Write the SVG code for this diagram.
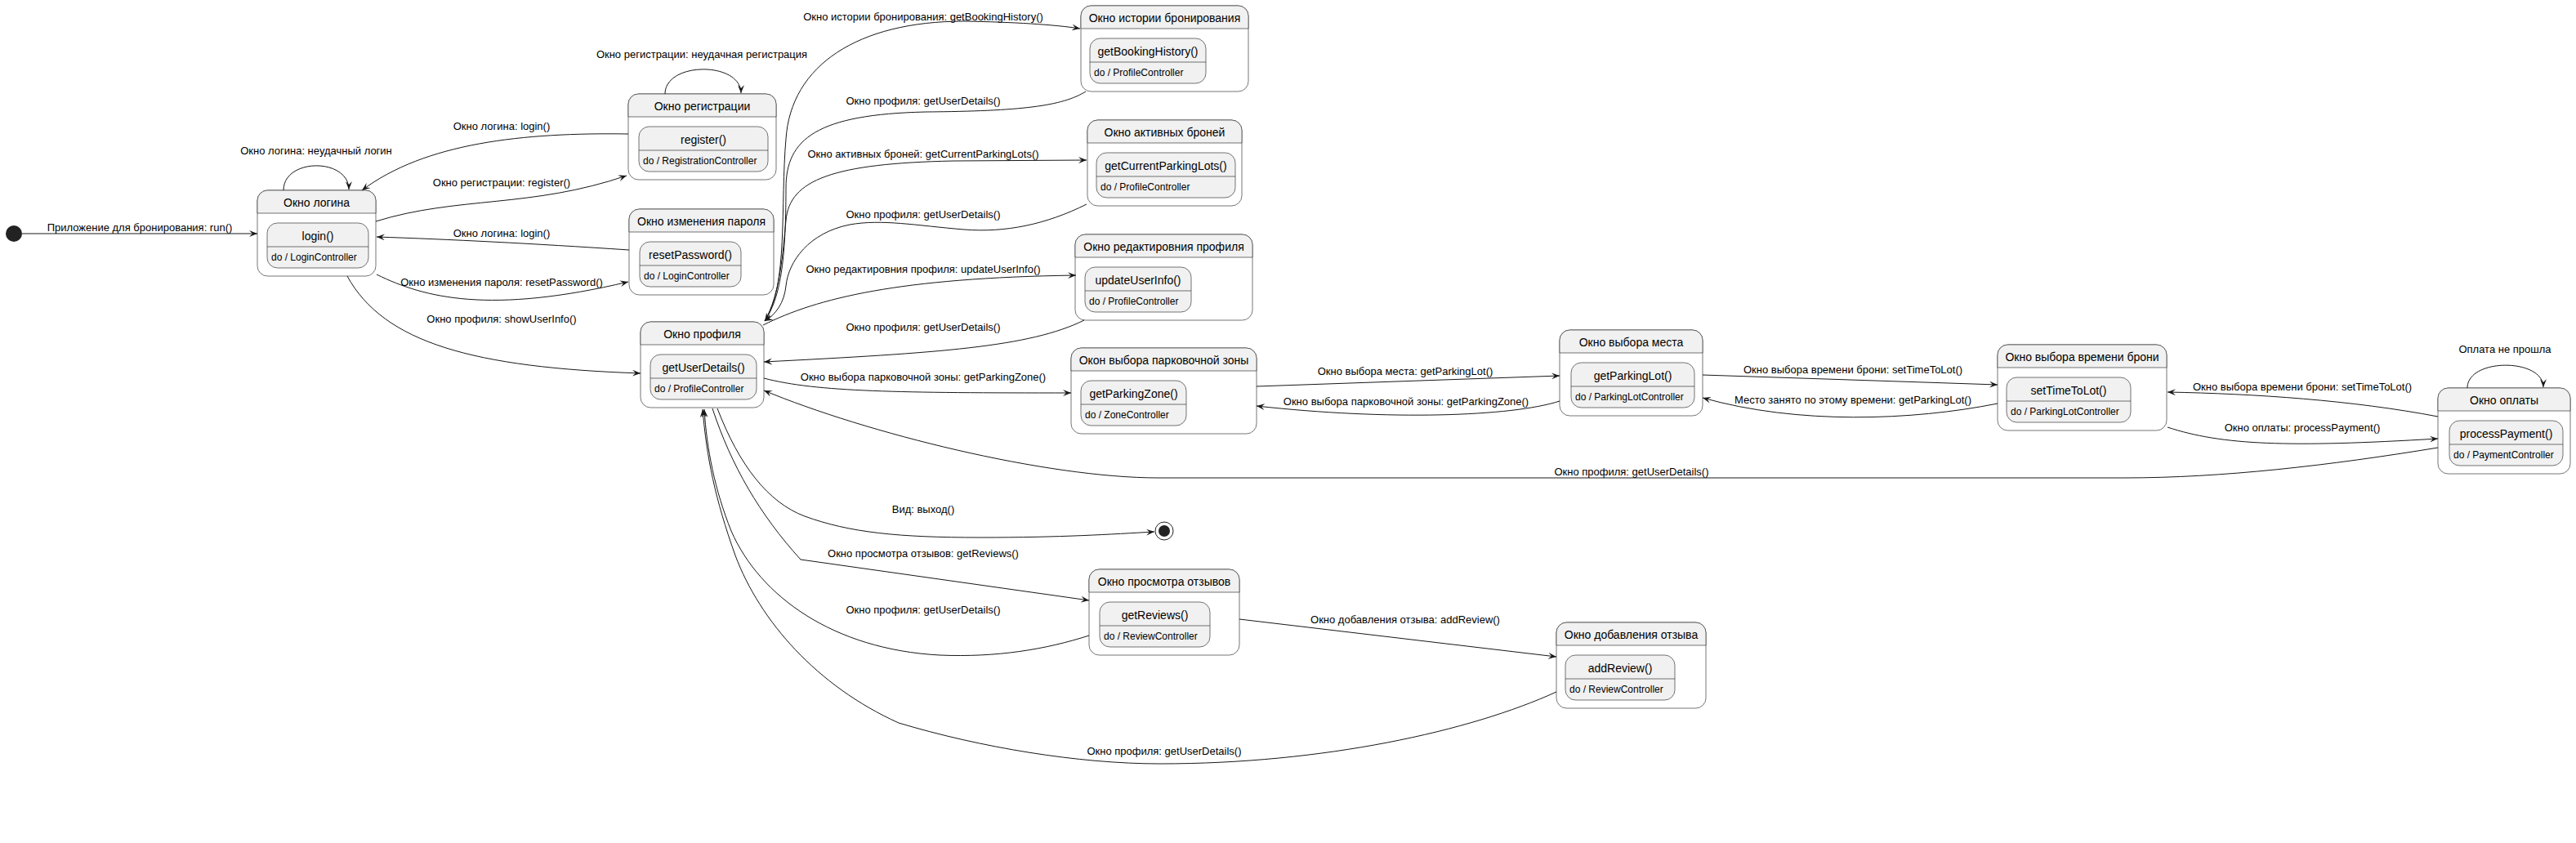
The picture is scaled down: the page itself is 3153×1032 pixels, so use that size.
<svg xmlns="http://www.w3.org/2000/svg" width="3153" height="1032" viewBox="0 0 3153 1032">
<style>
.ob{fill:#FFFFFF;stroke:#181818;stroke-width:0.6}
.hd{fill:#F1F1F1;stroke:#181818;stroke-width:0.6}
.ib{fill:#F1F1F1;stroke:#181818;stroke-width:0.6}
.sl{stroke:#181818;stroke-width:0.6}
.t{font-family:"Liberation Sans",Arial,sans-serif;font-size:14px;fill:#000;text-anchor:middle}
.d{font-family:"Liberation Sans",Arial,sans-serif;font-size:12px;fill:#000}
.e{fill:none;stroke:#181818;stroke-width:1;marker-end:url(#arr)}
.l{font-family:"Liberation Sans",Arial,sans-serif;font-size:13px;fill:#000;text-anchor:middle}
</style>
<defs>
<marker id="arr" markerUnits="userSpaceOnUse" viewBox="0 0 10 8" refX="10" refY="4" markerWidth="10" markerHeight="8" orient="auto">
<path d="M0,0 L10,4 L0,8 L4,4 Z" fill="#181818"/>
</marker>
</defs>
<rect width="3153" height="1032" fill="#FFFFFF"/>

<g id="start"><circle cx="17" cy="286" r="10" fill="#222222"/></g>
<g id="end"><circle cx="1425" cy="650" r="11" fill="none" stroke="#222222" stroke-width="1"/><circle cx="1425" cy="650" r="7" fill="#222222"/></g>

<g id="login">
<rect class="ob" x="315" y="233" width="145" height="105" rx="12.5"/>
<path class="hd" d="M315,261 V245.5 A12.5,12.5 0 0 1 327.5,233 H447.5 A12.5,12.5 0 0 1 460,245.5 V261 Z"/>
<text class="t" x="387.5" y="253">Окно логина</text>
<rect class="ib" x="327" y="273" width="124" height="55" rx="12.5"/>
<line class="sl" x1="327" y1="302" x2="451" y2="302"/>
<text class="t" x="389" y="294">login()</text>
<text class="d" x="332" y="319">do / LoginController</text>
</g>

<g id="registration">
<rect class="ob" x="769" y="115" width="181" height="105" rx="12.5"/>
<path class="hd" d="M769,143 V127.5 A12.5,12.5 0 0 1 781.5,115 H937.5 A12.5,12.5 0 0 1 950,127.5 V143 Z"/>
<text class="t" x="859.5" y="135">Окно регистрации</text>
<rect class="ib" x="782" y="155" width="158" height="55" rx="12.5"/>
<line class="sl" x1="782" y1="184" x2="940" y2="184"/>
<text class="t" x="861" y="176">register()</text>
<text class="d" x="787" y="201">do / RegistrationController</text>
</g>

<g id="password">
<rect class="ob" x="770" y="256" width="177" height="105" rx="12.5"/>
<path class="hd" d="M770,284 V268.5 A12.5,12.5 0 0 1 782.5,256 H934.5 A12.5,12.5 0 0 1 947,268.5 V284 Z"/>
<text class="t" x="858.5" y="276">Окно изменения пароля</text>
<rect class="ib" x="783" y="296" width="124" height="55" rx="12.5"/>
<line class="sl" x1="783" y1="325" x2="907" y2="325"/>
<text class="t" x="845" y="317">resetPassword()</text>
<text class="d" x="788" y="342">do / LoginController</text>
</g>

<g id="profile">
<rect class="ob" x="784" y="394" width="151" height="105" rx="12.5"/>
<path class="hd" d="M784,422 V406.5 A12.5,12.5 0 0 1 796.5,394 H922.5 A12.5,12.5 0 0 1 935,406.5 V422 Z"/>
<text class="t" x="859.5" y="414">Окно профиля</text>
<rect class="ib" x="796" y="434" width="130" height="55" rx="12.5"/>
<line class="sl" x1="796" y1="463" x2="926" y2="463"/>
<text class="t" x="861" y="455">getUserDetails()</text>
<text class="d" x="801" y="480">do / ProfileController</text>
</g>

<g id="history">
<rect class="ob" x="1323" y="7" width="205" height="105" rx="12.5"/>
<path class="hd" d="M1323,35 V19.5 A12.5,12.5 0 0 1 1335.5,7 H1515.5 A12.5,12.5 0 0 1 1528,19.5 V35 Z"/>
<text class="t" x="1425.5" y="27">Окно истории бронирования</text>
<rect class="ib" x="1334" y="47" width="142" height="55" rx="12.5"/>
<line class="sl" x1="1334" y1="76" x2="1476" y2="76"/>
<text class="t" x="1405" y="68">getBookingHistory()</text>
<text class="d" x="1339" y="93">do / ProfileController</text>
</g>

<g id="active">
<rect class="ob" x="1331" y="147" width="189" height="105" rx="12.5"/>
<path class="hd" d="M1331,175 V159.5 A12.5,12.5 0 0 1 1343.5,147 H1507.5 A12.5,12.5 0 0 1 1520,159.5 V175 Z"/>
<text class="t" x="1425.5" y="167">Окно активных броней</text>
<rect class="ib" x="1342" y="187" width="170" height="55" rx="12.5"/>
<line class="sl" x1="1342" y1="216" x2="1512" y2="216"/>
<text class="t" x="1427" y="208">getCurrentParkingLots()</text>
<text class="d" x="1347" y="233">do / ProfileController</text>
</g>

<g id="edit">
<rect class="ob" x="1316" y="287" width="217" height="105" rx="12.5"/>
<path class="hd" d="M1316,315 V299.5 A12.5,12.5 0 0 1 1328.5,287 H1520.5 A12.5,12.5 0 0 1 1533,299.5 V315 Z"/>
<text class="t" x="1424.5" y="307">Окно редактировния профиля</text>
<rect class="ib" x="1328" y="327" width="130" height="55" rx="12.5"/>
<line class="sl" x1="1328" y1="356" x2="1458" y2="356"/>
<text class="t" x="1393" y="348">updateUserInfo()</text>
<text class="d" x="1333" y="373">do / ProfileController</text>
</g>

<g id="zone">
<rect class="ob" x="1311" y="426" width="227" height="105" rx="12.5"/>
<path class="hd" d="M1311,454 V438.5 A12.5,12.5 0 0 1 1323.5,426 H1525.5 A12.5,12.5 0 0 1 1538,438.5 V454 Z"/>
<text class="t" x="1424.5" y="446">Окон выбора парковочной зоны</text>
<rect class="ib" x="1323" y="466" width="129" height="55" rx="12.5"/>
<line class="sl" x1="1323" y1="495" x2="1452" y2="495"/>
<text class="t" x="1387.5" y="487">getParkingZone()</text>
<text class="d" x="1328" y="512">do / ZoneController</text>
</g>

<g id="place">
<rect class="ob" x="1909" y="404" width="175" height="105" rx="12.5"/>
<path class="hd" d="M1909,432 V416.5 A12.5,12.5 0 0 1 1921.5,404 H2071.5 A12.5,12.5 0 0 1 2084,416.5 V432 Z"/>
<text class="t" x="1996.5" y="424">Окно выбора места</text>
<rect class="ib" x="1923" y="444" width="151" height="55" rx="12.5"/>
<line class="sl" x1="1923" y1="473" x2="2074" y2="473"/>
<text class="t" x="1998.5" y="465">getParkingLot()</text>
<text class="d" x="1928" y="490">do / ParkingLotController</text>
</g>

<g id="time">
<rect class="ob" x="2445" y="422" width="207" height="105" rx="12.5"/>
<path class="hd" d="M2445,450 V434.5 A12.5,12.5 0 0 1 2457.5,422 H2639.5 A12.5,12.5 0 0 1 2652,434.5 V450 Z"/>
<text class="t" x="2548.5" y="442">Окно выбора времени брони</text>
<rect class="ib" x="2456" y="462" width="152" height="55" rx="12.5"/>
<line class="sl" x1="2456" y1="491" x2="2608" y2="491"/>
<text class="t" x="2532" y="483">setTimeToLot()</text>
<text class="d" x="2461" y="508">do / ParkingLotController</text>
</g>

<g id="payment">
<rect class="ob" x="2984" y="475" width="162" height="105" rx="12.5"/>
<path class="hd" d="M2984,503 V487.5 A12.5,12.5 0 0 1 2996.5,475 H3133.5 A12.5,12.5 0 0 1 3146,487.5 V503 Z"/>
<text class="t" x="3065" y="495">Окно оплаты</text>
<rect class="ib" x="2998" y="515" width="139" height="55" rx="12.5"/>
<line class="sl" x1="2998" y1="544" x2="3137" y2="544"/>
<text class="t" x="3067.5" y="536">processPayment()</text>
<text class="d" x="3003" y="561">do / PaymentController</text>
</g>

<g id="reviews">
<rect class="ob" x="1333" y="697" width="184" height="105" rx="12.5"/>
<path class="hd" d="M1333,725 V709.5 A12.5,12.5 0 0 1 1345.5,697 H1504.5 A12.5,12.5 0 0 1 1517,709.5 V725 Z"/>
<text class="t" x="1425" y="717">Окно просмотра отзывов</text>
<rect class="ib" x="1346" y="737" width="135" height="55" rx="12.5"/>
<line class="sl" x1="1346" y1="766" x2="1481" y2="766"/>
<text class="t" x="1413.5" y="758">getReviews()</text>
<text class="d" x="1351" y="783">do / ReviewController</text>
</g>

<g id="addreview">
<rect class="ob" x="1905" y="762" width="183" height="105" rx="12.5"/>
<path class="hd" d="M1905,790 V774.5 A12.5,12.5 0 0 1 1917.5,762 H2075.5 A12.5,12.5 0 0 1 2088,774.5 V790 Z"/>
<text class="t" x="1996.5" y="782">Окно добавления отзыва</text>
<rect class="ib" x="1916" y="802" width="134" height="55" rx="12.5"/>
<line class="sl" x1="1916" y1="831" x2="2050" y2="831"/>
<text class="t" x="1983" y="823">addReview()</text>
<text class="d" x="1921" y="848">do / ReviewController</text>
</g>

<g id="connectors">
<path class="e" d="M27,286 L315,286"/>
<text class="l" x="171" y="283">Приложение для бронирования: run()</text>

<path class="e" d="M347,233 C347,193 427,193 427,232"/>
<text class="l" x="387" y="189">Окно логина: неудачный логин</text>

<path class="e" d="M769,164 C640,162 520,175 443,233"/>
<text class="l" x="614" y="159">Окно логина: login()</text>

<path class="e" d="M460,271 C560,240 650,255 767,215"/>
<text class="l" x="614" y="228">Окно регистрации: register()</text>

<path class="e" d="M814,115 C814,75 907,75 907,114"/>
<text class="l" x="859" y="71">Окно регистрации: неудачная регистрация</text>

<path class="e" d="M770,306 C650,298 550,293 461,290"/>
<text class="l" x="614" y="290">Окно логина: login()</text>

<path class="e" d="M461,336 C520,365 600,385 769,345"/>
<text class="l" x="614" y="350">Окно изменения пароля: resetPassword()</text>

<path class="e" d="M425,338 C470,420 580,450 784,457"/>
<text class="l" x="614" y="395">Окно профиля: showUserInfo()</text>

<path class="e" d="M936,393 C965,350 955,250 962,170 C968,80 1050,26 1180,26 C1240,27 1290,30 1322,35"/>
<text class="l" x="1130" y="25">Окно истории бронирования: getBookingHistory()</text>

<path class="e" d="M1329,112 C1300,130 1250,136 1133,137 C1000,140 962,170 962,230 C962,320 955,365 936,393"/>
<text class="l" x="1130" y="128">Окно профиля: getUserDetails()</text>

<path class="e" d="M936,393 C955,360 958,310 962,270 C966,220 1020,200 1167,197 L1330,196"/>
<text class="l" x="1130" y="193">Окно активных броней: getCurrentParkingLots()</text>

<path class="e" d="M1330,250 C1280,275 1230,285 1180,281 C1120,276 1080,268 1040,275 C990,285 965,320 962,350 C960,370 950,385 936,393"/>
<text class="l" x="1130" y="267">Окно профиля: getUserDetails()</text>

<path class="e" d="M934,398 C1000,365 1100,340 1317,337"/>
<text class="l" x="1130" y="334">Окно редактировния профиля: updateUserInfo()</text>

<path class="e" d="M1327,392 C1260,425 1150,432 935,443"/>
<text class="l" x="1130" y="405">Окно профиля: getUserDetails()</text>

<path class="e" d="M935,463 C1000,480 1100,481 1311,481"/>
<text class="l" x="1130" y="466">Окно выбора парковочной зоны: getParkingZone()</text>

<path class="e" d="M1538,473 L1909,460"/>
<text class="l" x="1720" y="459">Окно выбора места: getParkingLot()</text>

<path class="e" d="M1909,491 C1850,510 1700,515 1538,497"/>
<text class="l" x="1721" y="496">Окно выбора парковочной зоны: getParkingZone()</text>

<path class="e" d="M2084,459 L2445,471"/>
<text class="l" x="2268" y="457">Окно выбора времени брони: setTimeToLot()</text>

<path class="e" d="M2445,494 C2340,515 2200,520 2084,487"/>
<text class="l" x="2268" y="494">Место занято по этому времени: getParkingLot()</text>

<path class="e" d="M2984,510 C2880,490 2760,482 2653,480"/>
<text class="l" x="2818" y="478">Окно выбора времени брони: setTimeToLot()</text>

<path class="e" d="M2653,523 C2720,545 2800,548 2984,537"/>
<text class="l" x="2818" y="528">Окно оплаты: processPayment()</text>

<path class="e" d="M3020,475 C3020,438 3113,438 3113,474"/>
<text class="l" x="3066" y="432">Оплата не прошла</text>

<path class="e" d="M2984,548 C2850,570 2720,585 2600,585 L1418,585 C1280,585 1060,530 935,478"/>
<text class="l" x="1997" y="582">Окно профиля: getUserDetails()</text>

<path class="e" d="M878,500 C905,570 940,615 985,632 C1040,652 1100,658 1200,658 C1300,658 1360,654 1413,651"/>
<text class="l" x="1130" y="628">Вид: выход()</text>

<path class="e" d="M872,500 C895,570 930,630 980,685 L1333,735"/>
<text class="l" x="1130" y="682">Окно просмотра отзывов: getReviews()</text>

<path class="e" d="M1333,778 C1280,795 1220,805 1150,802 C1020,795 930,730 895,650 C875,600 865,550 862,501"/>
<text class="l" x="1130" y="751">Окно профиля: getUserDetails()</text>

<path class="e" d="M1517,758 L1905,804"/>
<text class="l" x="1720" y="763">Окно добавления отзыва: addReview()</text>

<path class="e" d="M1905,847 C1800,895 1620,935 1420,935 C1320,935 1200,915 1100,885 C1000,840 930,760 900,680 C875,610 865,560 860,501"/>
<text class="l" x="1425" y="924">Окно профиля: getUserDetails()</text>
</g>
</svg>
